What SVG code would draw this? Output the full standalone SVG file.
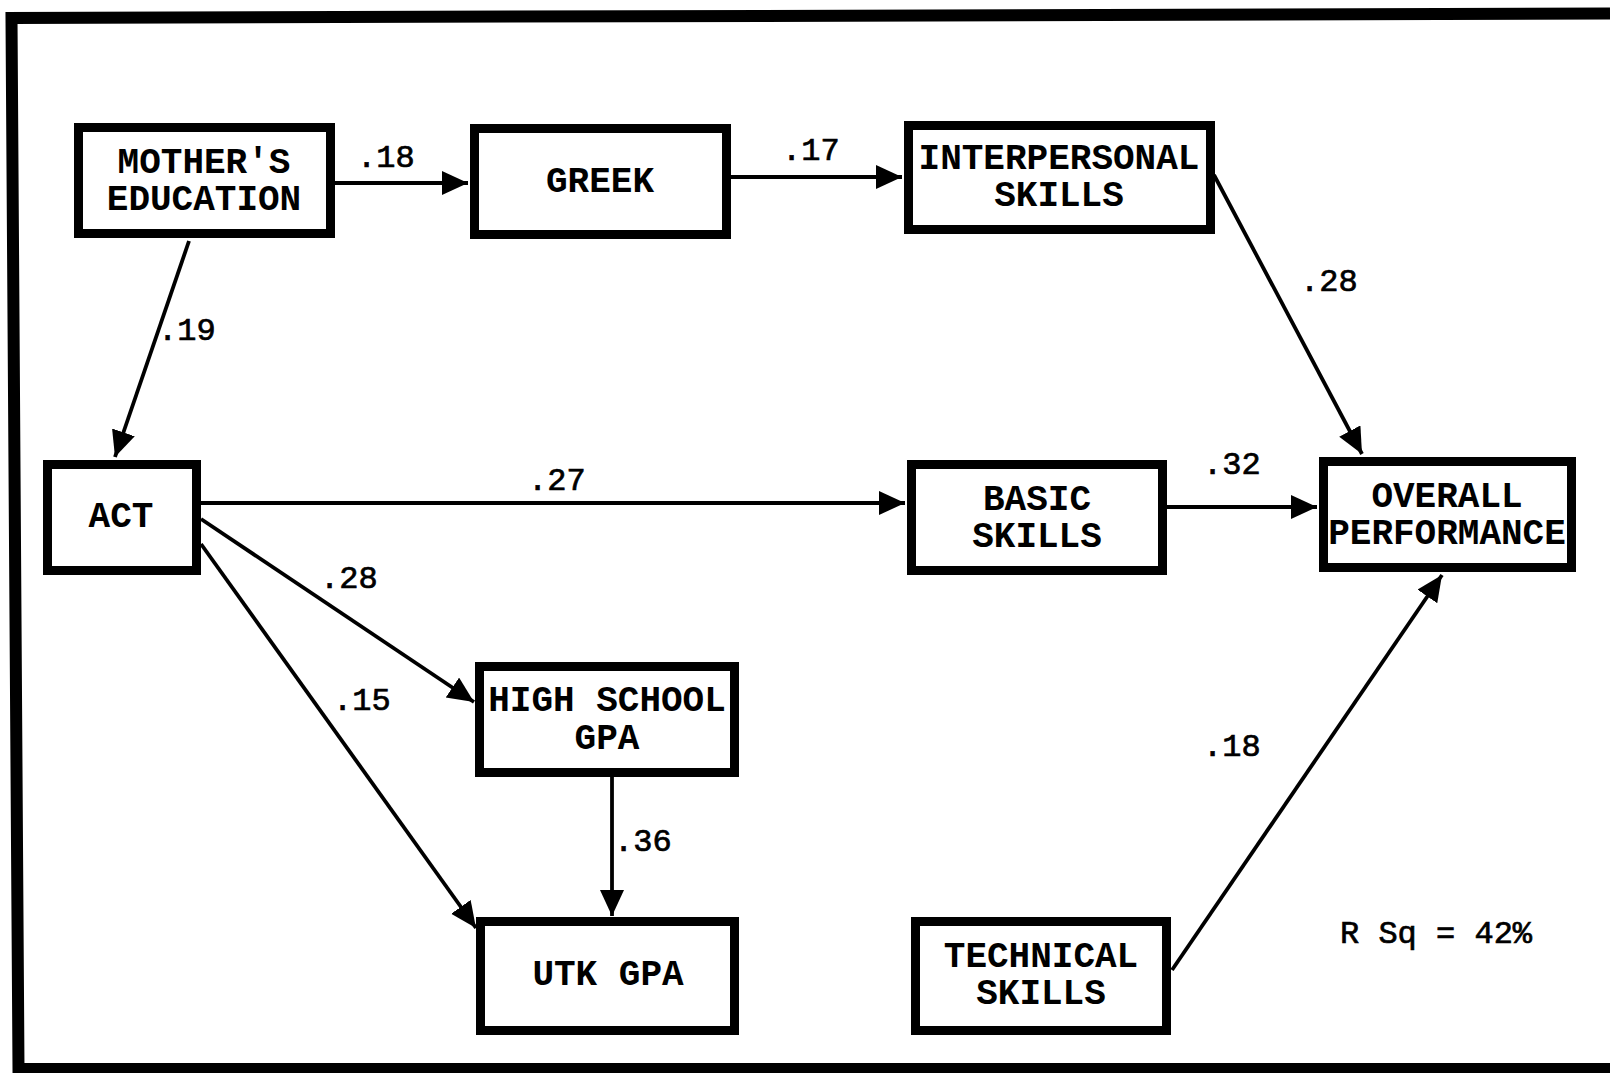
<svg xmlns="http://www.w3.org/2000/svg" width="1610" height="1073" viewBox="0 0 1610 1073">
<style>
.box{fill:#fff;stroke:#000;stroke-width:9}
.lbl{font-family:"Liberation Mono","DejaVu Sans Mono",monospace;font-weight:bold;font-size:36px;text-anchor:middle;fill:#000}
.num{font-family:"Liberation Mono","DejaVu Sans Mono",monospace;font-size:32px;fill:#000;stroke:#000;stroke-width:0.7}
.edge{fill:none;stroke:#000;stroke-width:3.8}
</style>
<defs>
<marker id="ah" markerUnits="userSpaceOnUse" markerWidth="28" markerHeight="26" refX="26" refY="12" orient="auto">
<path d="M0,0 L26,12 L0,24 Z" fill="#000"/>
</marker>
</defs>
<rect width="1610" height="1073" fill="#fff"/>
<path d="M1610,13.5 L11.5,18 L18.5,1069 L1610,1069" fill="none" stroke="#000" stroke-width="12"/>
<g id="connectors">
<line class="edge" x1="335" y1="183" x2="468" y2="183" marker-end="url(#ah)"/>
<line class="edge" x1="731" y1="177" x2="902" y2="177" marker-end="url(#ah)"/>
<line class="edge" x1="189" y1="241" x2="115" y2="457" marker-end="url(#ah)"/>
<line class="edge" x1="1214" y1="175" x2="1362" y2="454" marker-end="url(#ah)"/>
<line class="edge" x1="201" y1="503" x2="905" y2="503" marker-end="url(#ah)"/>
<line class="edge" x1="1167" y1="507" x2="1317" y2="507" marker-end="url(#ah)"/>
<line class="edge" x1="201" y1="519" x2="474" y2="702" marker-end="url(#ah)"/>
<line class="edge" x1="201" y1="544" x2="476" y2="928" marker-end="url(#ah)"/>
<line class="edge" x1="612" y1="776" x2="612" y2="916" marker-end="url(#ah)"/>
<line class="edge" x1="1172" y1="970" x2="1442" y2="575" marker-end="url(#ah)"/>
<text class="num" x="357" y="167">.18</text>
<text class="num" x="782" y="160">.17</text>
<text class="num" x="158" y="340">.19</text>
<text class="num" x="1300" y="291">.28</text>
<text class="num" x="528" y="490">.27</text>
<text class="num" x="1203" y="474">.32</text>
<text class="num" x="320" y="588">.28</text>
<text class="num" x="333" y="710">.15</text>
<text class="num" x="614" y="851">.36</text>
<text class="num" x="1203" y="756">.18</text>
</g>
<g id="mothers-education">
<rect class="box" x="78.5" y="127.5" width="252" height="106"/>
<text class="lbl"><tspan x="204" y="173">MOTHER'S</tspan><tspan x="204" dy="37">EDUCATION</tspan></text>
</g>
<g id="greek">
<rect class="box" x="474.5" y="128.5" width="252" height="106"/>
<text class="lbl" x="600" y="192">GREEK</text>
</g>
<g id="interpersonal-skills">
<rect class="box" x="908.5" y="125.5" width="302" height="104"/>
<text class="lbl"><tspan x="1059" y="169">INTERPERSONAL</tspan><tspan x="1059" dy="37">SKILLS</tspan></text>
</g>
<g id="act">
<rect class="box" x="47.5" y="464.5" width="149" height="106"/>
<text class="lbl" x="121" y="527">ACT</text>
</g>
<g id="basic-skills">
<rect class="box" x="911.5" y="464.5" width="251" height="106"/>
<text class="lbl"><tspan x="1037" y="509.5">BASIC</tspan><tspan x="1037" dy="37.5">SKILLS</tspan></text>
</g>
<g id="overall-performance">
<rect class="box" x="1323.5" y="461.5" width="248" height="106"/>
<text class="lbl"><tspan x="1447" y="506.5">OVERALL</tspan><tspan x="1447" dy="37.5">PERFORMANCE</tspan></text>
</g>
<g id="high-school-gpa">
<rect class="box" x="479.5" y="666.5" width="255" height="106"/>
<text class="lbl"><tspan x="607" y="711">HIGH SCHOOL</tspan><tspan x="607" dy="37.5">GPA</tspan></text>
</g>
<g id="utk-gpa">
<rect class="box" x="480.5" y="921.5" width="254" height="109"/>
<text class="lbl" x="608" y="985">UTK GPA</text>
</g>
<g id="technical-skills">
<rect class="box" x="915.5" y="921.5" width="251" height="109"/>
<text class="lbl"><tspan x="1041" y="966.5">TECHNICAL</tspan><tspan x="1041" dy="37.5">SKILLS</tspan></text>
</g>
<g id="rsq">
<text class="num" x="1340" y="943" font-size="33">R Sq = 42%</text>
</g>
</svg>
